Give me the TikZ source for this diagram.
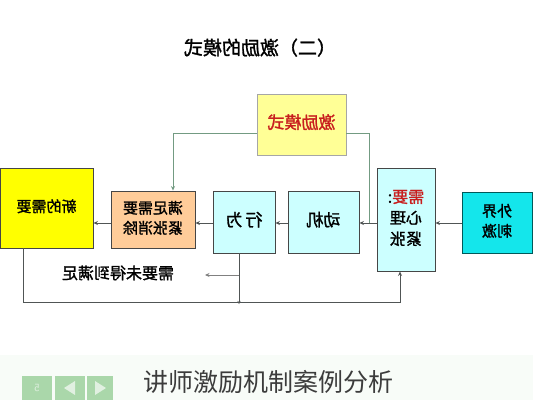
\documentclass[tikz,border=0pt]{standalone}
\usepackage{fontspec}
\usepackage{graphicx}
\usetikzlibrary{arrows.meta}
\newfontfamily\cjk{Noto Sans CJK SC}
\newfontfamily\cjkb[FakeBold=1.5]{Noto Sans CJK SC}
\newcommand{\mir}[1]{\reflectbox{\begin{tabular}{@{}c@{}}#1\end{tabular}}}
\definecolor{boxline}{RGB}{70,70,70}
\definecolor{fbline}{RGB}{115,155,130}
\definecolor{mainline}{RGB}{80,85,85}
\definecolor{ylight}{RGB}{255,255,150}
\definecolor{ystrong}{RGB}{255,255,0}
\definecolor{peach}{RGB}{255,204,153}
\definecolor{lcyan}{RGB}{204,255,255}
\definecolor{scyan}{RGB}{20,230,235}
\definecolor{txtred}{RGB}{200,30,30}
\definecolor{btn}{RGB}{170,215,170}
\definecolor{btnmark}{RGB}{225,240,225}
\definecolor{captxt}{RGB}{60,60,60}
\definecolor{bgband}{RGB}{248,252,248}
\begin{document}
\begin{tikzpicture}[x=1pt,y=-1pt,
  box/.style={draw=boxline, line width=0.9pt, inner sep=0pt, font=\cjkb\fontsize{15}{20}\selectfont},
  arr/.style={draw=mainline, line width=0.8pt, -{Stealth[length=4.5pt,width=4pt]}},
  ln/.style={draw=mainline, line width=0.8pt},
  fb/.style={draw=fbline, line width=1pt},
  fbarr/.style={draw=fbline, line width=1pt, -{Stealth[length=4.5pt,width=4pt]}},
  btnbox/.style={fill=btn, draw=none, minimum width=30pt, minimum height=24pt, inner sep=0pt}]
\useasboundingbox (0,0) rectangle (533,400);
\fill[white] (0,0) rectangle (533,400);
\fill[bgband] (0,355) rectangle (533,400);

% title
\node (title) at (260,50) {\cjkb\fontsize{19}{22}\selectfont\mir{（二）激励的模式}};

% boxes
\node[box, fill=ylight, draw=gray!70, minimum width=89pt, minimum height=61pt, text=txtred, font=\cjkb\fontsize{17}{20}\selectfont] (ymode) at (301.5,124.5) {\mir{激励模式}};
\node[box, fill=ystrong, minimum width=93pt, minimum height=80pt] (newneed) at (46.5,208) {\mir{新的需要}};
\node[box, fill=peach, minimum width=84pt, minimum height=57pt] (satisfy) at (153,219.5) {\mir{满足需要\\紧张消除}};
\node[box, fill=lcyan, minimum width=62pt, minimum height=62pt, font=\cjkb\fontsize{17}{20}\selectfont] (behav) at (244,222) {\mir{行\,为}};
\node[box, fill=lcyan, minimum width=71pt, minimum height=62pt, font=\cjkb\fontsize{17}{20}\selectfont] (motive) at (323.5,222) {\mir{动机}};
\node[box, fill=lcyan, minimum width=58pt, minimum height=103pt, font=\cjkb\fontsize{16}{21}\selectfont] (need) at (406,219.5) {\mir{\textcolor{txtred}{需要}:\\心理\\紧张}};
\node[box, fill=scyan, draw=teal!70!black, minimum width=70pt, minimum height=61pt] (stim) at (497,222.5) {\mir{外界\\刺激}};

\node[font=\cjkb\fontsize{16}{20}\selectfont] (unmet) at (118,275) {\mir{需要未得到满足}};

% coordinates
\coordinate (jl) at (173,133);
\coordinate (jr) at (369,133);
\coordinate (jd) at (369,224);
\coordinate (m) at (0,223);
\coordinate (bl) at (23,302);
\coordinate (br) at (400,302);
\coordinate (bv) at (239,304);
\coordinate (ub) at (239,275);
\coordinate (ue) at (205,275);

% feedback lines from yellow box
\draw[fb] (ymode.west |- jl) -- (jl);
\draw[fbarr] (jl) -- (jl |- satisfy.north);
\draw[fb] (ymode.east |- jr) -- (jr) -- (jd);

% main chain
\draw[arr] (stim.west |- m) -- (need.east |- m);
\draw[arr] (need.west |- m) -- (motive.east |- m);
\draw[arr] (motive.west |- m) -- (behav.east |- m);
\draw[arr] (behav.west |- m) -- (satisfy.east |- m);
\draw[arr] (satisfy.west |- m) -- (newneed.east |- m);

% bottom loop
\draw[arr] (newneed.south -| bl) -- (bl) -- (br) -- (need.south -| br);
\draw[ln, -{Stealth[length=3pt,width=3pt]}] (behav.south -| bv) -- (bv);
\draw[arr, draw=gray] (ub) -- (ue);

% caption and buttons
\node[font=\cjk\fontsize{25}{28}\selectfont, text=captxt] (cap) at (268,382) {讲师激励机制案例分析};
\node[btnbox] (b1) at (37,388) {\reflectbox{\sffamily\fontsize{11}{12}\selectfont\textcolor{btnmark}{5}}};
\node[btnbox] (b2) at (70,388) {};
\node[btnbox, minimum width=26pt] (b3) at (100,388) {};
\fill[btnmark] ([xshift=-6pt]b2.center) -- ([xshift=5pt,yshift=7pt]b2.center) -- ([xshift=5pt,yshift=-7pt]b2.center) -- cycle;
\fill[btnmark] ([xshift=6pt]b3.center) -- ([xshift=-5pt,yshift=7pt]b3.center) -- ([xshift=-5pt,yshift=-7pt]b3.center) -- cycle;
\end{tikzpicture}
\end{document}
